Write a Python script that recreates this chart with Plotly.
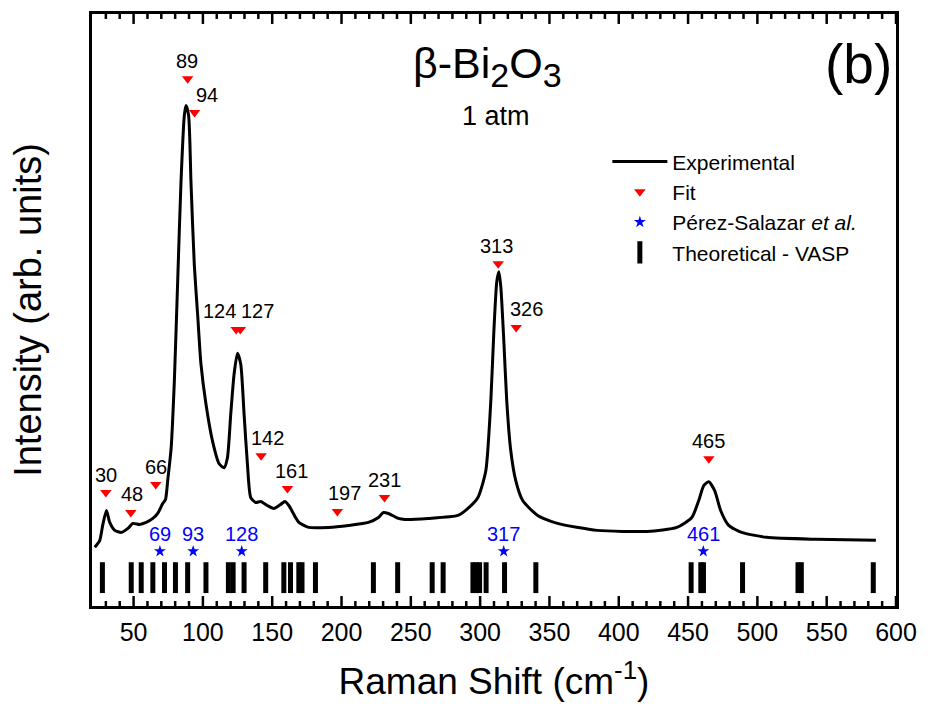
import plotly.graph_objects as go

# Experimental spectrum (Raman shift cm-1, intensity arb. units)
exp_x = [22.0, 25.6, 27.7, 30.4, 32.8, 36.4, 41.2, 45.9, 49.5, 54.3, 59.1, 63.9, 67.4, 71.0, 73.0,
         74.6, 77.1, 79.4, 81.8, 84.2, 86.6, 87.8, 89.7, 91.4, 93.8, 96.2, 98.6, 102.2, 106.9,
         111.7, 115.3, 117.7, 120.1, 122.5, 124.9, 127.3, 129.7, 132.1, 134.5, 138.1, 141.7,
         146.4, 151.2, 156.0, 159.1, 162.0, 166.8, 169.2, 176.3, 190.7, 205.1, 219.4, 226.6,
         230.2, 233.8, 241.0, 245.8, 262.5, 284.0, 291.2, 298.4, 304.1, 307.7, 309.9, 312.0,
         313.5, 314.9, 317.1, 319.2, 322.1, 325.7, 330.7, 341.5, 355.8, 384.5, 420.4, 441.9,
         452.7, 457.7, 461.3, 464.9, 469.2, 473.5, 479.3, 488.6, 506.6, 542.5, 585.5]
exp_y = [59, 66, 81, 96, 84, 76, 74, 78, 83, 82, 84, 88, 93, 103, 107,
         126, 159, 226, 326, 426, 493, 503, 493, 426, 343, 293, 243, 203, 166,
         143, 139, 149, 193, 233, 254, 243, 193, 143, 109, 104, 105,
         101, 98, 102, 105, 101, 89, 84, 79, 79, 81, 84, 89,
         94, 93, 88, 87, 88, 91, 98, 109, 136, 206, 276, 326,
         336, 321, 266, 206, 156, 126, 106, 91, 83, 76, 75, 79,
         89, 106, 121, 125, 116, 96, 81, 74, 69, 67, 66]

# Fit peaks
fit_x = [30, 48, 66, 89, 94, 124, 127, 142, 161, 197, 231, 313, 326, 465]
fit_y = [114, 94, 122, 530, 496, 278, 278, 151, 118, 95, 109, 344, 280, 148]
fit_labels = ["30", "48", "66", "89", "94", "124", "127", "142", "161", "197", "231", "313", "326", "465"]
fit_label_dx = [0, 1, 0, -1, 12, -17, 17, 6, 4, 7, 0, -2, 10, 0]

# Pérez-Salazar et al.
ps_x = [69, 93, 128, 317, 461]
ps_y = [55, 55, 55, 55, 55]
ps_labels = ["69", "93", "128", "317", "461"]

# Theoretical - VASP modes
vasp_x = [27.5, 48.3, 55.5, 63.9, 72.3, 80.2, 89.0, 102.2, 118.4, 121.8, 129.7, 145.3, 158.4,
          163.2, 169.2, 171.5, 181.2, 223.0, 240.5, 265.4, 273.3, 294.8, 297.2, 299.6, 304.3,
          317.6, 340.2, 452.2, 459.2, 461.1, 489.3, 529.3, 531.7, 583.6]
vasp_y0 = 13
vasp_y1 = 44

# x-axis ticks (cm-1)
major_ticks = [50, 100, 150, 200, 250, 300, 350, 400, 450, 500, 550, 600]
minor_ticks = [v for v in range(30, 600, 10) if v % 50 != 0]

Y_MIN, Y_MAX = 0, 595
MAJOR_LEN, MINOR_LEN = 10, 5

FONT = "Arial, Liberation Sans, sans-serif"

fig = go.Figure()

# theoretical bars as segments
bx, by = [], []
for v in vasp_x:
    bx += [v, v, None]
    by += [vasp_y0, vasp_y1, None]
fig.add_trace(go.Scatter(x=bx, y=by, mode="lines", line=dict(color="black", width=5),
                         showlegend=False, hoverinfo="skip"))

# inward tick marks on bottom and top of frame
tx, ty = [], []
for v in major_ticks:
    tx += [v, v, None, v, v, None]
    ty += [Y_MIN, Y_MIN + MAJOR_LEN, None, Y_MAX, Y_MAX - MAJOR_LEN, None]
for v in minor_ticks:
    tx += [v, v, None, v, v, None]
    ty += [Y_MIN, Y_MIN + MINOR_LEN, None, Y_MAX, Y_MAX - MINOR_LEN, None]
fig.add_trace(go.Scatter(x=tx, y=ty, mode="lines", line=dict(color="black", width=2.5),
                         showlegend=False, hoverinfo="skip", cliponaxis=False))

fig.add_trace(go.Scatter(x=exp_x, y=exp_y, mode="lines", name="Experimental",
                         line=dict(color="black", width=3, shape="spline", smoothing=0.6)))
fig.add_trace(go.Scatter(x=fit_x, y=fit_y, mode="markers", name="Fit",
                         marker=dict(symbol="triangle-down", color="red", size=10)))
fig.add_trace(go.Scatter(x=ps_x, y=ps_y, mode="markers", name="Pérez-Salazar <i>et al.</i>",
                         marker=dict(symbol="star", color="blue", size=9)))
fig.add_trace(go.Scatter(x=[None], y=[None], mode="markers", name="Theoretical - VASP",
                         marker=dict(symbol="line-ns-open", color="black", size=16,
                                     line=dict(color="black", width=5))))

ann = []
for x, y, t, dx in zip(fit_x, fit_y, fit_labels, fit_label_dx):
    ann.append(dict(x=x, y=y, text=t, showarrow=False, yshift=18, xshift=dx,
                    font=dict(size=20, color="black", family=FONT)))
for x, y, t in zip(ps_x, ps_y, ps_labels):
    ann.append(dict(x=x, y=y, text=t, showarrow=False, yshift=17,
                    font=dict(size=20, color="blue", family=FONT)))
ann.append(dict(xref="paper", yref="paper", x=0.492, y=0.912, xanchor="center", yanchor="middle",
                text="β-Bi<sub><span style='font-size:34px'>2</span></sub>O<sub><span style='font-size:34px'>3</span></sub>",
                showarrow=False, font=dict(size=43, color="black", family=FONT)))
ann.append(dict(xref="paper", yref="paper", x=0.503, y=0.827, xanchor="center", yanchor="middle",
                text="1 atm", showarrow=False, font=dict(size=27, color="black", family=FONT)))
ann.append(dict(xref="paper", yref="paper", x=0.953, y=0.915, xanchor="center", yanchor="middle",
                text="(b)", showarrow=False, font=dict(size=55, color="black", family=FONT)))

fig.update_layout(
    width=928, height=716,
    margin=dict(l=92, r=29, t=11, b=110),
    paper_bgcolor="white", plot_bgcolor="white",
    font=dict(family=FONT, color="black"),
    annotations=ann,
    legend=dict(x=0.641, y=0.785, xanchor="left", yanchor="top", bgcolor="rgba(0,0,0,0)",
                font=dict(size=21, family=FONT), itemwidth=55, tracegroupgap=0),
    xaxis=dict(range=[20, 600], tickmode="array", tickvals=major_ticks, ticks="",
               showline=True, linecolor="black", linewidth=3, mirror=True,
               showgrid=False, zeroline=False,
               tickfont=dict(size=25, family=FONT), ticklabelstandoff=2,
               title=dict(text="Raman Shift (cm<sup>-1</sup>)", font=dict(size=37, family=FONT), standoff=24)),
    yaxis=dict(range=[Y_MIN, Y_MAX], showticklabels=False, ticks="", showline=True, linecolor="black",
               linewidth=3, mirror=True, showgrid=False, zeroline=False,
               title=dict(text="Intensity (arb. units)", font=dict(size=38, family=FONT), standoff=36)),
)

fig.write_html("out.html")
